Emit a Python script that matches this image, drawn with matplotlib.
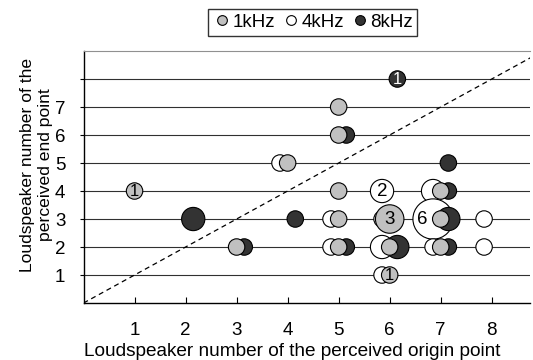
import matplotlib
matplotlib.use("Agg")
import matplotlib.pyplot as plt
from matplotlib.lines import Line2D

plt.rcParams['font.family'] = ['Liberation Sans', 'DejaVu Sans']

# ---- data: (origin x, end y, count) per frequency ----
x_1k = [1, 3, 4, 5, 5, 5, 5, 5, 6, 6, 6, 7, 7, 7]
y_1k = [4, 2, 5, 7, 6, 4, 3, 2, 3, 2, 1, 4, 3, 2]
n_1k = [1, 1, 1, 1, 1, 1, 1, 1, 3, 1, 1, 1, 1, 1]

x_4k = [4, 5, 5, 6, 6, 6, 6, 7, 7, 7, 8, 8]
y_4k = [5, 3, 2, 4, 3, 2, 1, 4, 3, 2, 3, 2]
n_4k = [1, 1, 1, 2, 1, 2, 1, 2, 6, 1, 1, 1]

x_8k = [2, 3, 4, 5, 5, 6, 6, 7, 7, 7, 7]
y_8k = [3, 2, 3, 6, 2, 8, 2, 5, 4, 3, 2]
n_8k = [2, 1, 1, 1, 1, 1, 2, 1, 1, 2, 1]

# labelled bubbles: (series, x, y, text)
labels = [("1k", 1, 4, "1"), ("8k", 6, 8, "1"), ("4k", 6, 4, "2"),
          ("1k", 6, 3, "3"), ("4k", 7, 3, "6"), ("1k", 6, 1, "1")]

x_ticks = [1, 2, 3, 4, 5, 6, 7, 8]
y_ticks = [1, 2, 3, 4, 5, 6, 7, 8]
y_ticklabels = ["1", "2", "3", "4", "5", "6", "7", ""]

series = {
    "4k": dict(x=x_4k, y=y_4k, n=n_4k, color="white", off=-0.15, name="4kHz", z=3),
    "8k": dict(x=x_8k, y=y_8k, n=n_8k, color="#333333", off=0.15, name="8kHz", z=4),
    "1k": dict(x=x_1k, y=y_1k, n=n_1k, color="#c0c0c0", off=0.0, name="1kHz", z=5),
}

BASE = 140.0
FS = 13.5

fig = plt.figure(figsize=(5.33, 3.60), dpi=100)
ax = fig.add_axes([0.1567, 0.1583, 0.8377, 0.70])

for key in ["4k", "8k", "1k"]:
    s = series[key]
    xs = [v + s["off"] for v in s["x"]]
    ax.scatter(xs, s["y"], s=[BASE * c for c in s["n"]], c=s["color"],
               edgecolors="black", linewidths=0.8, zorder=s["z"])

label_dx = {("4k", 7, 3): -0.22}
for key, xv, yv, t in labels:
    s = series[key]
    col = "white" if key == "8k" else "black"
    dx = label_dx.get((key, xv, yv), 0.0)
    fs = FS if t != "1" else 12
    ax.text(xv + s["off"] + dx, yv, t, ha="center", va="center",
            fontsize=fs, color=col, zorder=10)

ax.plot([0, 9], [0, 9], ls=(0, (4, 3)), color="black", lw=0.9, zorder=2)

ax.set_xlim(0, 8.75)
ax.set_ylim(0, 9)
ax.set_xticks(x_ticks)
ax.set_xticklabels([str(v) for v in x_ticks])
ax.set_yticks(y_ticks)
ax.set_yticklabels(y_ticklabels)
for yv in y_ticks:
    ax.axhline(yv, color="#303030", lw=0.8, zorder=1)

ax.tick_params(axis="x", direction="in", length=4, width=0.8, pad=14, labelsize=FS)
ax.tick_params(axis="y", direction="out", length=3, width=0.8, pad=10, labelsize=FS)

ax.spines["right"].set_visible(False)
ax.spines["top"].set_color("#909090")
ax.spines["left"].set_linewidth(1.0)
ax.spines["bottom"].set_linewidth(1.0)

ax.set_xlabel("Loudspeaker number of the perceived origin point", fontsize=13.7)
ax.xaxis.set_label_coords(0.467, -0.16)
ax.set_ylabel("Loudspeaker number of the\nperceived end point", fontsize=12.6,
              linespacing=1.25)
ax.yaxis.set_label_coords(-0.068, 0.548)

handles = [Line2D([], [], marker="o", ls="none", markersize=7,
                  markerfacecolor=series[k]["color"], markeredgecolor="black",
                  markeredgewidth=0.8, label=series[k]["name"])
           for k in ["1k", "4k", "8k"]]
fig.legend(handles=handles, loc="center", bbox_to_anchor=(0.587, 0.938),
           ncol=3, frameon=True, fancybox=False, edgecolor="black",
           fontsize=FS, handletextpad=0.05, columnspacing=0.35,
           borderpad=0.25, handlelength=1.0)

fig.savefig("out.png", dpi=100)
